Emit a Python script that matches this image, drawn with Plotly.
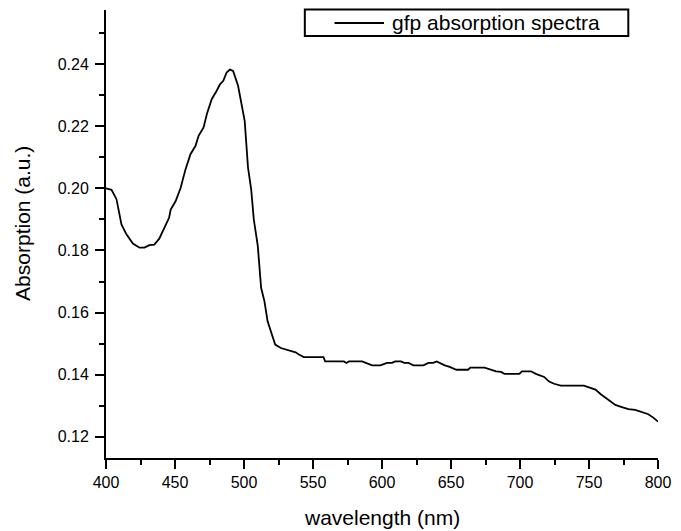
import plotly.graph_objects as go

series_name = "gfp absorption spectra"
x_title = "wavelength (nm)"
y_title = "Absorption (a.u.)"

wavelength = [400, 404, 407.6, 411.2, 414.8, 419.5, 424.3, 427.9, 431.4, 435, 438.6, 442.1,
              445.7, 446.9, 450.5, 454.1, 457.6, 461.2, 464.8, 467.1, 470.7, 473.1, 476.6,
              480.2, 482.6, 485, 487.4, 489.8, 492.1, 495.7, 498.1, 500.5, 502.9, 505.2,
              507.1, 508.8, 510, 512.4, 514.8, 517.1, 519.5, 522.6, 526.7, 530.2, 533.8,
              537.4, 539.8, 543.3, 557.6, 558.8, 572.4, 574.3, 576, 585.6, 592.8, 598.8,
              603.6, 607.2, 609.6, 613.7, 616.1, 619.2, 622.8, 630, 633.6, 637.1, 639.6,
              643.2, 645.5, 649.1, 653.9, 662.3, 664, 674.3, 679.1, 682.7, 686.3, 688.7,
              699.5, 701.4, 707.9, 711.5, 717.5, 721.1, 724.7, 729.5, 746.3, 749.8, 754.7,
              758.3, 764.2, 769.1, 773.8, 778.6, 783.5, 788.2, 793, 796.6, 800]
absorption = [0.2000, 0.1995, 0.1965, 0.1884, 0.1852, 0.1822, 0.1809, 0.1809, 0.1817, 0.1819,
              0.1838, 0.1873, 0.1905, 0.1932, 0.1959, 0.2002, 0.2061, 0.2110, 0.2136, 0.2169,
              0.2196, 0.2239, 0.2287, 0.2314, 0.2335, 0.2346, 0.2373, 0.2382, 0.2378, 0.2330,
              0.2276, 0.2217, 0.2067, 0.1997, 0.1900, 0.1846, 0.1814, 0.1680, 0.1637, 0.1572,
              0.1540, 0.1497, 0.1486, 0.1481, 0.1475, 0.1472, 0.1465, 0.1457, 0.1457, 0.1443,
              0.1443, 0.1438, 0.1443, 0.1443, 0.1430, 0.1430, 0.1438, 0.1438, 0.1443, 0.1443,
              0.1438, 0.1438, 0.1430, 0.1430, 0.1438, 0.1438, 0.1443, 0.1435, 0.1430, 0.1425,
              0.1416, 0.1416, 0.1423, 0.1423, 0.1416, 0.1411, 0.1409, 0.1403, 0.1403, 0.1411,
              0.1411, 0.1403, 0.1393, 0.1378, 0.1371, 0.1365, 0.1365, 0.1359, 0.1352, 0.1338,
              0.1319, 0.1303, 0.1296, 0.1289, 0.1287, 0.1280, 0.1273, 0.1262, 0.1249]

x_ticks = [400, 450, 500, 550, 600, 650, 700, 750, 800]
y_ticks = [0.12, 0.14, 0.16, 0.18, 0.20, 0.22, 0.24]

FONT = "Liberation Sans, Arial, sans-serif"

fig = go.Figure()
fig.add_trace(go.Scatter(x=wavelength, y=absorption, mode="lines", name=series_name,
                         line=dict(color="black", width=1.8), showlegend=False))

axis_common = dict(showline=True, linecolor="black", linewidth=2, mirror=False,
                   ticks="outside", ticklen=9, tickwidth=2, tickcolor="black",
                   showgrid=False, zeroline=False,
                   tickfont=dict(family=FONT, size=16, color="black"))

fig.update_xaxes(range=[400, 800], tickvals=x_ticks, ticktext=[str(v) for v in x_ticks],
                 minor=dict(dtick=25, tick0=400, ticks="outside", ticklen=5, tickwidth=2,
                            tickcolor="black", showgrid=False),
                 **axis_common)
fig.update_yaxes(range=[0.1132, 0.2574], tickvals=y_ticks,
                 ticktext=[f"{v:.2f}" for v in y_ticks], ticklabelstandoff=3,
                 minor=dict(dtick=0.01, tick0=0.11, ticks="outside", ticklen=5, tickwidth=2,
                            tickcolor="black", showgrid=False),
                 **axis_common)

# legend drawn as box + sample line + label
fig.add_shape(type="rect", xref="paper", yref="paper", x0=0.3602, x1=0.9462, y0=0.942, y1=1.0011,
              line=dict(color="black", width=2), fillcolor="white")
fig.add_shape(type="line", xref="paper", yref="paper", x0=0.414, x1=0.5036, y0=0.971, y1=0.971,
              line=dict(color="black", width=1.8))
fig.add_annotation(text=series_name, xref="paper", yref="paper", x=0.5143, y=0.971,
                   xanchor="left", yanchor="middle", showarrow=False,
                   font=dict(family=FONT, size=21, color="black"))

fig.add_annotation(text=x_title, xref="paper", yref="paper", x=0.5, y=-0.1317,
                   xanchor="center", yanchor="middle", showarrow=False,
                   font=dict(family=FONT, size=21, color="black"))
fig.add_annotation(text=y_title, xref="paper", yref="paper", x=-0.1505, y=0.5246,
                   xanchor="center", yanchor="middle", showarrow=False, textangle=-90,
                   font=dict(family=FONT, size=21, color="black"))

fig.update_layout(width=681, height=531, margin=dict(l=106, r=17, t=10, b=73),
                  plot_bgcolor="white", paper_bgcolor="white", showlegend=False)

fig.write_html("out.html")
